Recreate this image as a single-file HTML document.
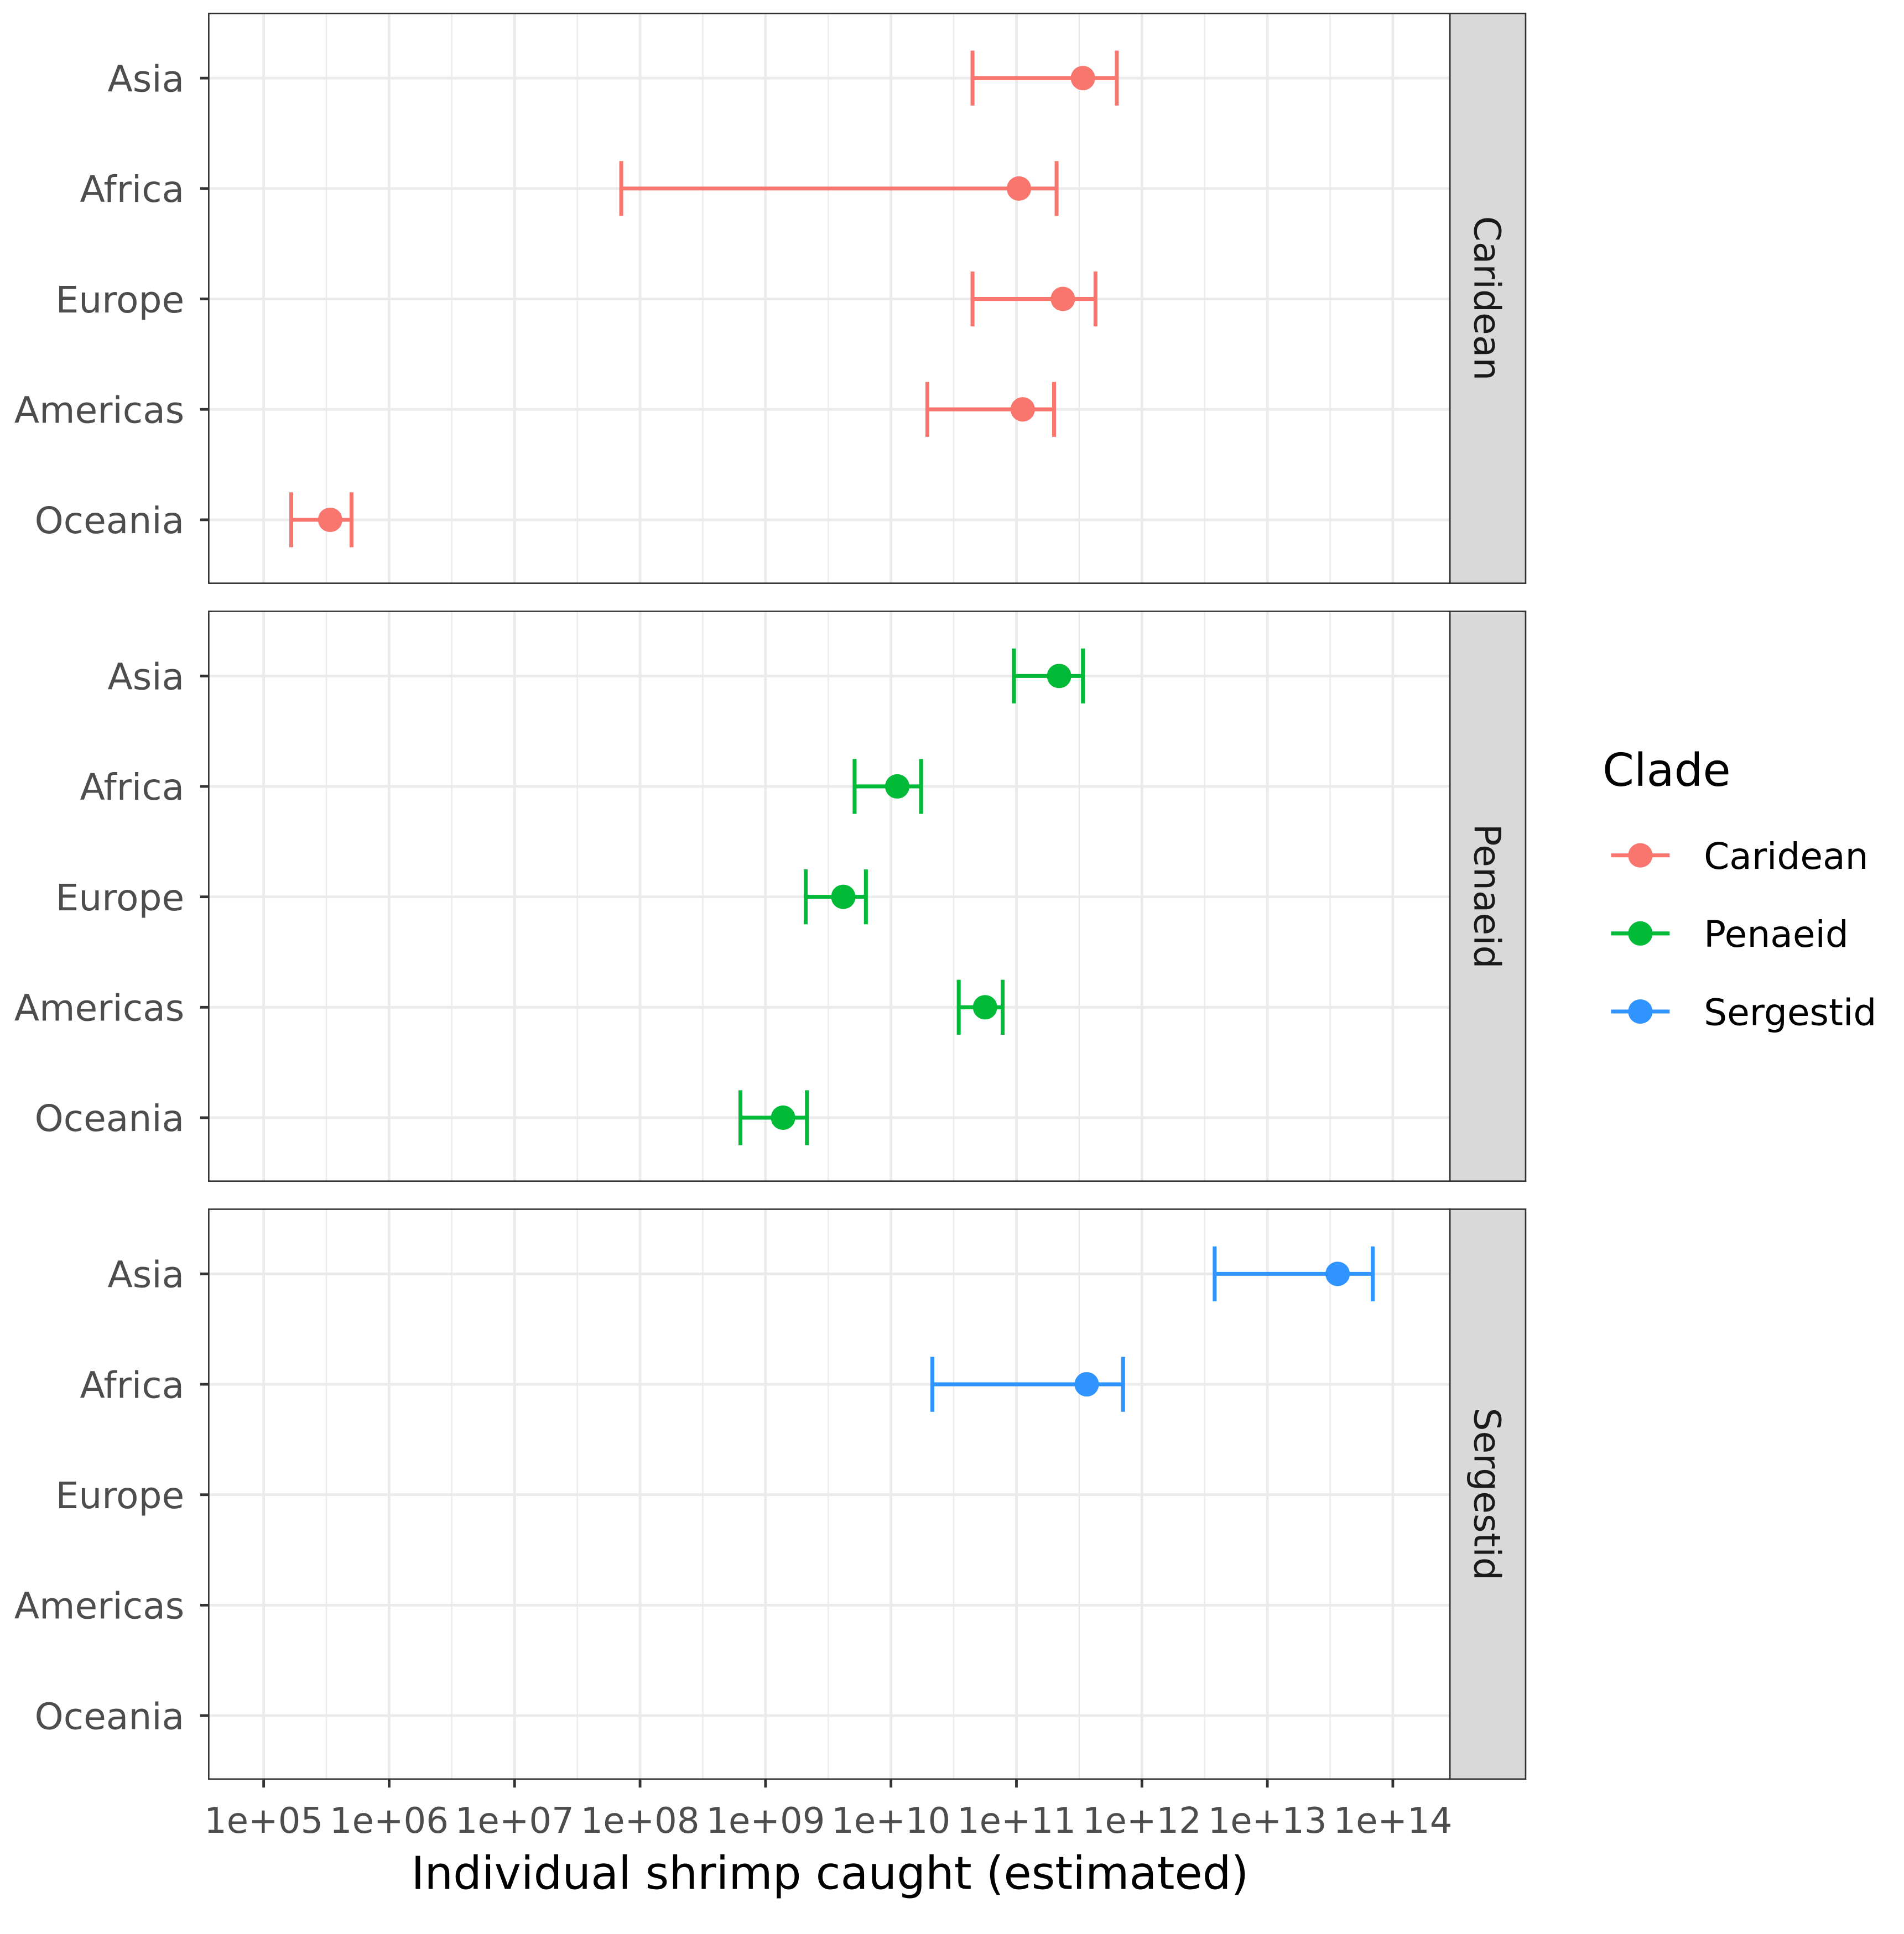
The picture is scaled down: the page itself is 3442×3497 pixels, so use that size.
<!DOCTYPE html>
<html><head><meta charset="utf-8"><style>html,body{margin:0;padding:0;background:#fff}svg{display:block}text{font-family:"DejaVu Sans","Liberation Sans",sans-serif}</style></head>
<body>
<svg id="chart" width="3442" height="3497" viewBox="0 0 1560 1585" xmlns="http://www.w3.org/2000/svg"></svg>
<script>
const regions = ["Asia","Africa","Europe","Americas","Oceania"];
const clades = ["Caridean","Penaeid","Sergestid"];
const cladeColors = ["#F8766D","#00BA38","#2F94FF"];
const xTickExps = [5,6,7,8,9,10,11,12,13,14];
const xTickLabels = ["1e+05","1e+06","1e+07","1e+08","1e+09","1e+10","1e+11","1e+12","1e+13","1e+14"];
// log10 values per clade, per region (null = missing)
const caridLo  = [10.65, 7.85, 10.65, 10.29, 5.22];
const caridMid = [11.53, 11.02, 11.37, 11.05, 5.53];
const caridHi  = [11.80, 11.32, 11.63, 11.30, 5.70];
const penLo  = [10.98, 9.71, 9.32, 10.54, 8.80];
const penMid = [11.34, 10.05, 9.62, 10.75, 9.14];
const penHi  = [11.53, 10.24, 9.80, 10.89, 9.33];
const serLo  = [12.58, 10.33, null, null, null];
const serMid = [13.56, 11.56, null, null, null];
const serHi  = [13.84, 11.85, null, null, null];
const los = [caridLo, penLo, serLo], mids = [caridMid, penMid, serMid], his = [caridHi, penHi, serHi];

const NS = "http://www.w3.org/2000/svg";
const svg = document.getElementById("chart");
function mk(tag, attrs, parent){const e=document.createElementNS(NS,tag);for(const k in attrs)e.setAttribute(k,attrs[k]);(parent||svg).appendChild(e);return e;}
const L=171, R=1188, SR=1250;
const panelTops=[11,501,991], PH=467;
const xScale = v => 216 + (v-5)*102.8;
const yScale = (p,i) => panelTops[p] + 53 + i*90.5;

clades.forEach((c,p)=>{
  const T=panelTops[p];
  const g=mk("g",{});
  
  
  mk("rect",{x:L,y:T,width:R-L,height:PH,fill:"#fff"},g);
  for(let e=4.5;e<=14.6;e+=1){const x=xScale(e); if(x>L&&x<R) mk("line",{x1:x,x2:x,y1:T,y2:T+PH,stroke:"#EBEBEB","stroke-width":1.1},g);}
  xTickExps.forEach(e=>{const x=xScale(e);mk("line",{x1:x,x2:x,y1:T,y2:T+PH,stroke:"#EBEBEB","stroke-width":2.2},g);});
  regions.forEach((r,i)=>{const y=yScale(p,i);mk("line",{x1:L,x2:R,y1:y,y2:y,stroke:"#EBEBEB","stroke-width":2.2},g);
    mk("line",{x1:164,x2:L,y1:y,y2:y,stroke:"#333","stroke-width":2.2},g);
    const t=mk("text",{x:151,y:y+11,"text-anchor":"end","font-size":30,fill:"#4D4D4D"},g);t.textContent=r;
    
    
  });
  regions.forEach((r,i)=>{
    const lo=los[p][i],md=mids[p][i],hi=his[p][i]; if(md===null) return;
    const y=yScale(p,i), col=cladeColors[p];
    const eg=mk("g",{stroke:col,"stroke-width":3.2,fill:col},g);
    
    
    mk("line",{x1:xScale(lo),x2:xScale(hi),y1:y,y2:y},eg);
    mk("line",{x1:xScale(lo),x2:xScale(lo),y1:y-22.5,y2:y+22.5},eg);
    mk("line",{x1:xScale(hi),x2:xScale(hi),y1:y-22.5,y2:y+22.5},eg);
    const pt=mk("circle",{cx:xScale(md),cy:y,r:10,stroke:"none"},eg);
    
    
  });
  mk("rect",{x:L,y:T,width:R-L,height:PH,fill:"none",stroke:"#333","stroke-width":1.2},g);
  const s=mk("rect",{x:R,y:T,width:SR-R,height:PH,fill:"#D9D9D9",stroke:"#333","stroke-width":1.2},g);
  
  
  const st=mk("text",{x:0,y:0,"font-size":30,fill:"#1A1A1A","text-anchor":"middle",transform:`translate(${R+(SR-R)/2-11},${T+PH/2}) rotate(90)`},g);
  st.textContent=c;
  
  
});
const B=panelTops[2]+PH;
xTickExps.forEach((e,k)=>{const x=xScale(e);
  mk("line",{x1:x,x2:x,y1:B,y2:B+7,stroke:"#333","stroke-width":2.2});
  const t=mk("text",{x:x,y:B+44,"text-anchor":"middle","font-size":29,fill:"#4D4D4D"});t.textContent=xTickLabels[k];
  
  
});
const xt=mk("text",{x:680,y:1548,"text-anchor":"middle","font-size":37,fill:"#000"});xt.textContent="Individual shrimp caught (estimated)";


const lt=mk("text",{x:1313,y:644,"font-size":37,fill:"#000"});lt.textContent="Clade";


clades.forEach((c,k)=>{const y=701+k*64;
  const lg=mk("g",{});
  
  
  mk("line",{x1:1320,x2:1368,y1:y,y2:y,stroke:cladeColors[k],"stroke-width":3.2},lg);
  mk("circle",{cx:1344,cy:y,r:10,fill:cladeColors[k]},lg);
  const t=mk("text",{x:1396,y:y+11,"font-size":30,fill:"#000"},lg);t.textContent=c;
});
</script>
</body></html>
